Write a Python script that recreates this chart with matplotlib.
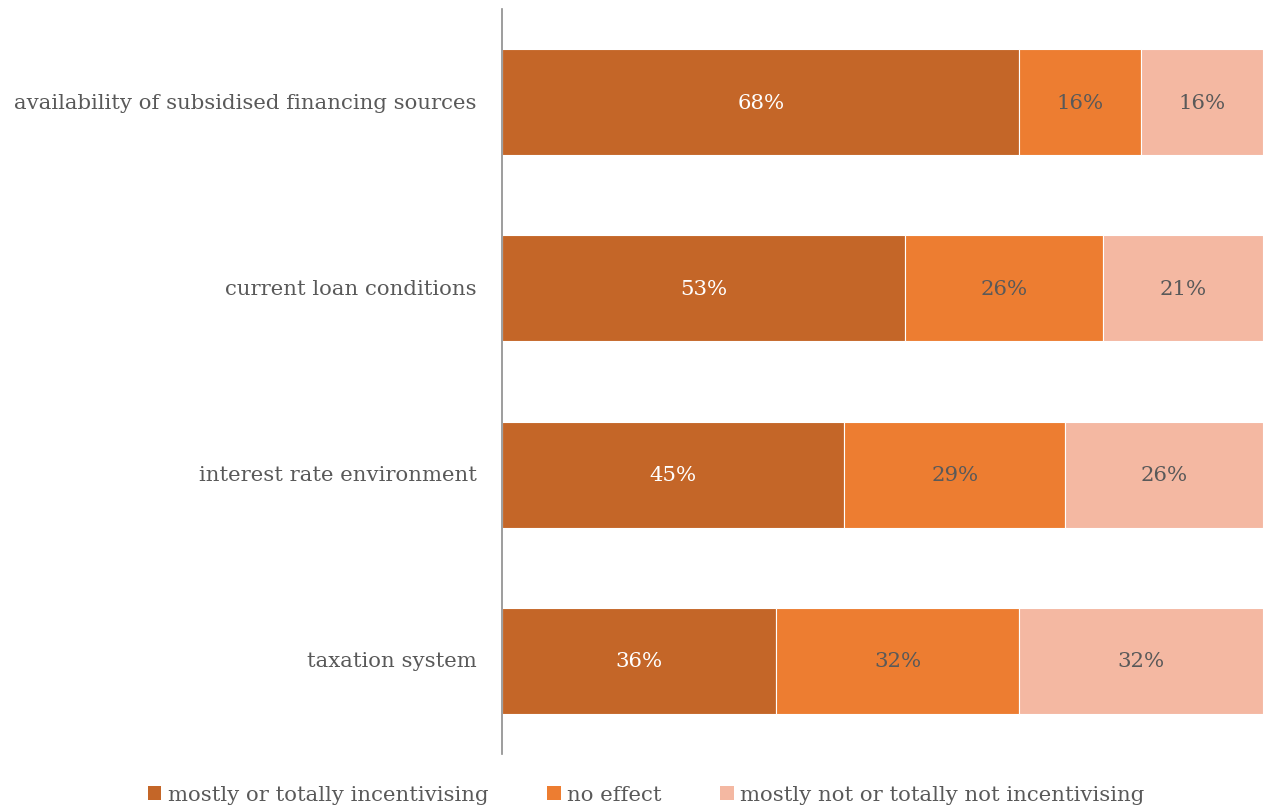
import matplotlib
matplotlib.use("Agg")
import matplotlib.pyplot as plt
from matplotlib.patches import Patch

categories = ["availability of subsidised financing sources", "current loan conditions",
              "interest rate environment", "taxation system"]
series_names = ["mostly or totally incentivising", "no effect",
                "mostly not or totally not incentivising"]
incentivising = [68, 53, 45, 36]
no_effect = [16, 26, 29, 32]
not_incentivising = [16, 21, 26, 32]

colors = ["#C46628", "#ED7D31", "#F4B8A2"]
label_colors = ["white", "#595959", "#595959"]
FONT = "DejaVu Serif"
plt.rcParams['font.family'] = [FONT]
FS = 15.3

fig = plt.figure(figsize=(12.63, 8.12), dpi=100)
ax = fig.add_axes([502/1263, 57/812, 761/1263, 745/812])

y = list(range(len(categories)))
left = [0] * len(categories)
for vals, col, lc in zip([incentivising, no_effect, not_incentivising], colors, label_colors):
    ax.barh(y, vals, left=left, height=0.57, color=col, edgecolor="white", linewidth=0.8)
    for yi, l, v in zip(y, left, vals):
        ax.text(l + v / 2, yi, f"{v}%", ha="center", va="center", color=lc, fontsize=FS)
    left = [a + b for a, b in zip(left, vals)]

ax.set_xlim(0, 100)
ax.set_ylim(3.5, -0.5)
ax.set_yticks(y)
ax.set_yticklabels(categories, fontsize=FS, color="#595959", va="center")
ax.tick_params(axis="y", length=0, pad=18)
ax.set_xticks([])
for s in ["top", "right", "bottom"]:
    ax.spines[s].set_visible(False)
ax.spines["left"].set_color("#8C8C8C")
ax.spines["left"].set_linewidth(1.2)

handles = [Patch(facecolor=c, edgecolor="none") for c in colors]
fig.legend(handles, series_names, loc="center", bbox_to_anchor=(646/1263, 1 - 796/812),
           ncol=3, frameon=False, fontsize=FS, labelcolor="#595959",
           handlelength=0.65, handleheight=0.65, handletextpad=0.3, columnspacing=2.75)

fig.savefig("out.png", dpi=100)
